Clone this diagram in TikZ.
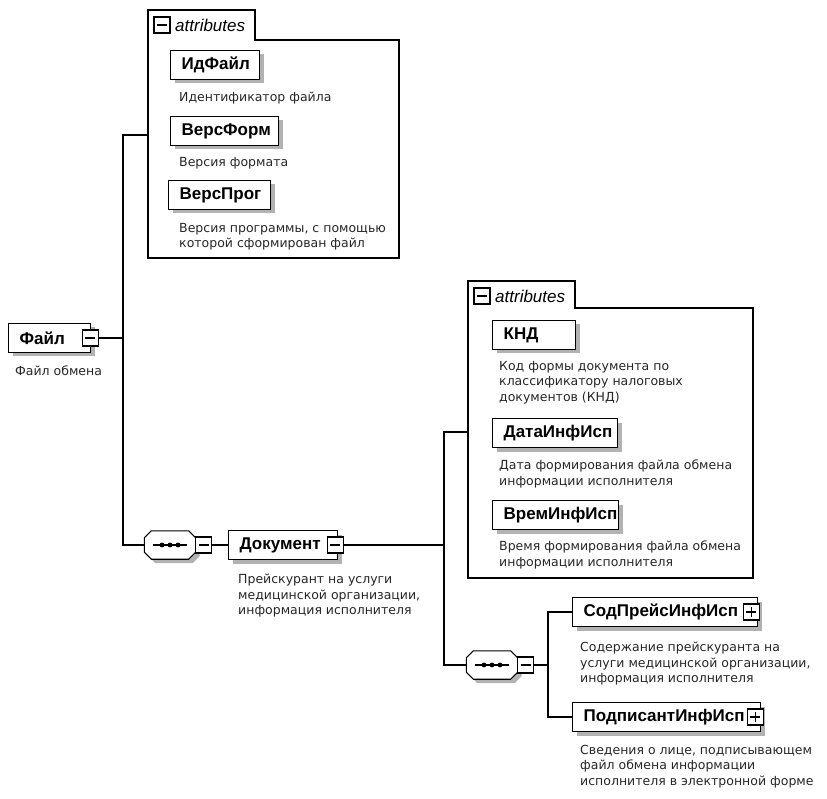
\documentclass[tikz,border=0pt]{standalone}
\usepackage{fontspec}
\setmainfont{DejaVu Sans}
\newfontfamily\namefont{Liberation Sans}
\usetikzlibrary{shadows}

\tikzset{
  conn/.style={line width=1.1pt},
  elem/.style={draw, fill=white, line width=1.3pt, anchor=west, align=left,
    minimum height=29pt, inner xsep=11pt, inner ysep=0pt,
    font=\namefont\bfseries\fontsize{17}{19}\selectfont,
    drop shadow={shadow xshift=4pt, shadow yshift=-4pt, fill=black!30, opacity=1}},
  desc/.style={anchor=north west, align=left, inner sep=0pt,
    font=\fontsize{12.5}{15.5}\selectfont, text=black!85},
  attrbox/.style={draw, line width=1.1pt},
  attrlabel/.style={anchor=west, inner sep=0pt,
    font=\namefont\itshape\fontsize{17}{19}\selectfont},
  minusbox/.style={draw, fill=white, line width=1.2pt, minimum size=16pt, inner sep=0pt,
    path picture={\draw[line width=1.2pt]
      ([xshift=3pt]path picture bounding box.west) -- ([xshift=-3pt]path picture bounding box.east);}},
  plusbox/.style={minusbox,
    path picture={\draw[line width=1.2pt]
      ([xshift=3pt]path picture bounding box.west) -- ([xshift=-3pt]path picture bounding box.east)
      ([yshift=-3pt]path picture bounding box.north) -- ([yshift=3pt]path picture bounding box.south);}},
  seq/.style={minimum width=51pt, minimum height=28pt, inner sep=0pt}
}

% octagon of a sequence compositor round node #1
\newcommand{\octpath}[1]{([xshift=7pt]#1.north west) -- ([xshift=-7pt]#1.north east)
  -- ([yshift=-7pt]#1.north east) -- ([yshift=7pt]#1.south east)
  -- ([xshift=-7pt]#1.south east) -- ([xshift=7pt]#1.south west)
  -- ([yshift=7pt]#1.south west) -- ([yshift=-7pt]#1.north west) -- cycle}
\newcommand{\seqdraw}[1]{%
  \begin{scope}[transform canvas={xshift=4pt, yshift=-4pt}]
    \fill [black!30] \octpath{#1};
  \end{scope}
  \draw [line width=1.1pt, fill=white] \octpath{#1};
  \draw [line width=1.2pt] ([xshift=9pt]#1.west) -- ([xshift=-9pt]#1.east);
  \foreach \d in {-8,0,8} \fill ([xshift=\d pt]#1.center) circle (2.4pt);}

\begin{document}
\begin{tikzpicture}[x=1pt,y=-1pt]
    \useasboundingbox (0,0) rectangle (827,799);

    % Файл
    \node [elem, text width=60pt] (fajl) at (8,338) {Файл};
    \node [minusbox] (fajl-m) at ([xshift=-1pt]fajl.east) {};
    \node [desc] (fajl-d) at (15,366) {Файл обмена};

    % attributes of Файл
    \draw [attrbox] (148,10) -- (255,10) -- (255,40) -- (399,40) -- (399,258) -- (148,258) -- cycle;
    \node [minusbox] (attr1-m) at (162,25) {};
    \node [attrlabel] (attr1-l) at (175,25) {attributes};
    \coordinate (attr1-in) at (148,135);

    \node [elem, text width=67pt] (idfajl) at (170,65) {ИдФайл};
    \node [desc] (idfajl-d) at (179,92) {Идентификатор файла};
    \node [elem, text width=86pt] (versform) at (170,131) {ВерсФорм};
    \node [desc] (versform-d) at (179,157) {Версия формата};
    \node [elem, text width=80pt] (versprog) at (168,195) {ВерсПрог};
    \node [desc] (versprog-d) at (179,223) {Версия программы, с помощью\\которой сформирован файл};

    % sequence -> Документ
    \node [seq] (seq1) at (170,545) {};
    \seqdraw{seq1}
    \node [minusbox] (seq1-m) at ([xshift=8pt]seq1.east) {};
    \node [elem, text width=87pt] (dok) at (228,545) {Документ};
    \node [minusbox] (dok-m) at ([xshift=-3pt]dok.east) {};
    \node [desc] (dok-d) at (238,574) {Прейскурант на услуги\\медицинской организации,\\информация исполнителя};

    % attributes of Документ
    \draw [attrbox] (468,281) -- (575,281) -- (575,308) -- (753,308) -- (753,578) -- (468,578) -- cycle;
    \node [minusbox] (attr2-m) at (482,296) {};
    \node [attrlabel] (attr2-l) at (495,296) {attributes};
    \coordinate (attr2-in) at (468,432);

    \node [elem, text width=61pt] (knd) at (492,335) {КНД};
    \node [desc] (knd-d) at (499,361) {Код формы документа по\\классификатору налоговых\\документов (КНД)};
    \node [elem, text width=103pt] (datainf) at (492,433) {ДатаИнфИсп};
    \node [desc] (datainf-d) at (499,460) {Дата формирования файла обмена\\информации исполнителя};
    \node [elem, text width=104pt] (vreminf) at (492,515) {ВремИнфИсп};
    \node [desc] (vreminf-d) at (499,541) {Время формирования файла обмена\\информации исполнителя};

    % sequence -> СодПрейсИнфИсп, ПодписантИнфИсп
    \node [seq] (seq2) at (492,665) {};
    \seqdraw{seq2}
    \node [minusbox] (seq2-m) at ([xshift=8pt]seq2.east) {};
    \node [elem, text width=163pt] (sodpreis) at (572,612) {СодПрейсИнфИсп};
    \node [plusbox] (sodpreis-p) at ([xshift=-7pt]sodpreis.east) {};
    \node [desc] (sodpreis-d) at (580,642) {Содержание прейскуранта на\\услуги медицинской организации,\\информация исполнителя};
    \node [elem, text width=166pt] (podp) at (572,717) {ПодписантИнфИсп};
    \node [plusbox] (podp-p) at ([xshift=-6pt]podp.east) {};
    \node [desc] (podp-d) at (580,745) {Сведения о лице, подписывающем\\файл обмена информации\\исполнителя в электронной форме};

    % connectors
    \draw [conn] (fajl-m.east) -- (123,338) coordinate (fajl-j);
    \draw [conn] (fajl-j) |- (attr1-in);
    \draw [conn] (fajl-j) |- (seq1.west);
    \draw [conn] (seq1-m.east) -- (dok.west);
    \draw [conn] (dok-m.east) -- (444,545) coordinate (dok-j);
    \draw [conn] (dok-j) |- (attr2-in);
    \draw [conn] (dok-j) |- (seq2.west);
    \draw [conn] (seq2-m.east) -- (548,665) coordinate (seq2-j);
    \draw [conn] (seq2-j) |- (sodpreis.west);
    \draw [conn] (seq2-j) |- (podp.west);

\end{tikzpicture}
\end{document}
